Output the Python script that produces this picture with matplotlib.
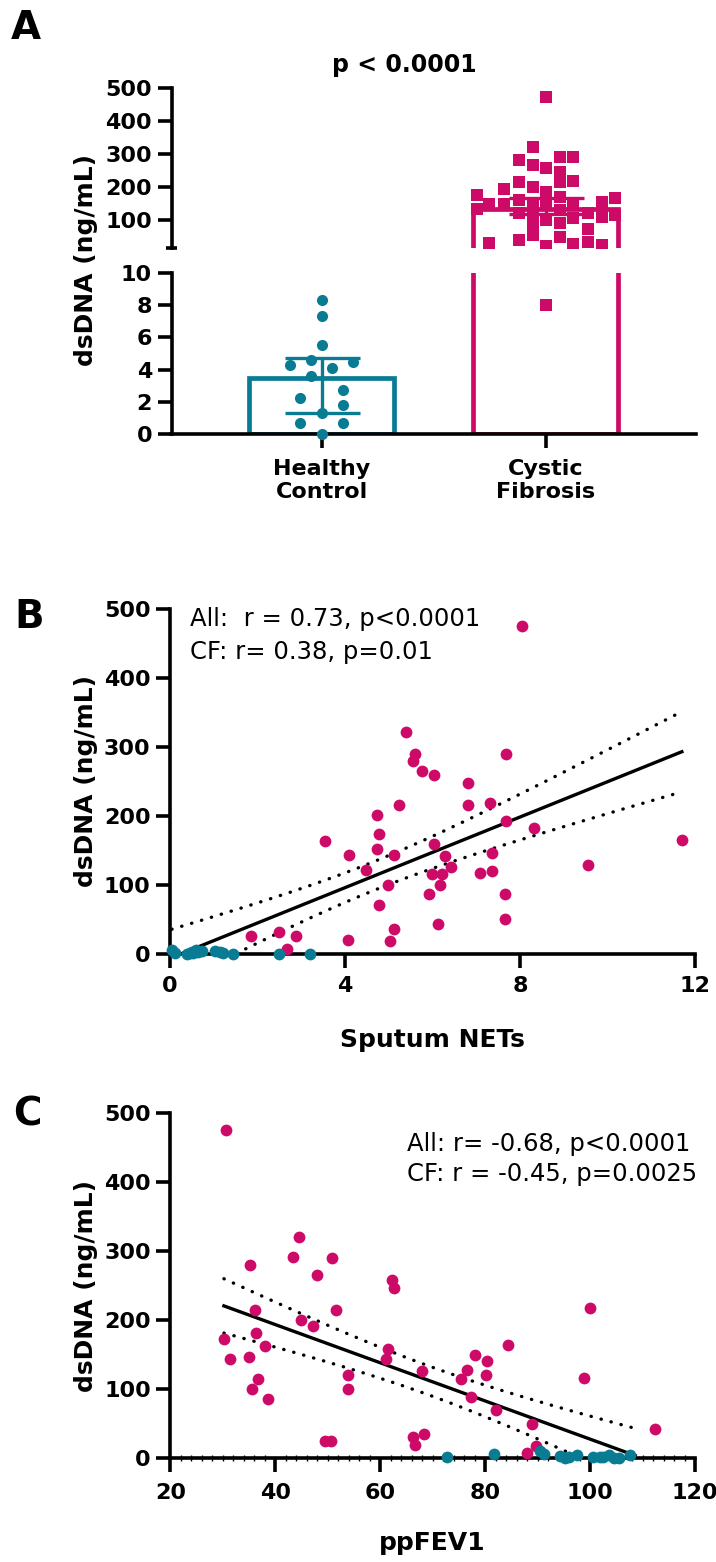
import matplotlib
matplotlib.use('Agg')

import numpy as np
import matplotlib.pyplot as plt

PINK = '#CE0A68'
TEAL = '#097C94'

# ---- panel A: dsDNA by group ----
groups = ['Healthy\nControl', 'Cystic\nFibrosis']
hc_dsdna = [8.3, 7.3, 5.5, 4.6, 4.3, 4.5, 4.1, 3.6, 2.75, 2.25, 1.8, 1.3, 0.7, 0.7, 0.0]
hc_jitter = [0, 0, 0, -0.048, -0.141, 0.141, 0.046, -0.048, 0.096, -0.095, 0.096, 0,
             -0.095, 0.096, 0]
cf_dsdna = [474, 323, 282, 267, 257, 292, 292, 247, 216, 218, 216, 201, 194, 186, 176,
            168, 171, 149, 149, 161, 151, 149, 156, 151, 135, 120, 120, 130, 105, 120,
            110, 115, 90, 100, 90, 72, 54, 39, 29, 47, 34, 26, 24, 21, 8]
cf_jitter = [0, -0.057, -0.119, -0.057, 0, 0.066, 0.123, 0.066, 0.066, 0.123, -0.119,
             -0.057, -0.184, 0, -0.307, 0.311, 0.066, -0.252, -0.184, -0.119, -0.057,
             0.123, 0.25, 0, -0.307, -0.119, -0.057, 0.066, 0.123, 0.188, 0.25, 0.311,
             -0.057, 0, 0.066, 0.188, -0.057, -0.119, -0.252, 0.066, 0.188, 0.123, 0.25,
             0, 0]
bar_heights = [3.5, 133]
err_low = [1.3, 118]
err_high = [4.7, 166]

# ---- panel B: dsDNA vs sputum NETs ----
cf_nets = [8.05, 5.40, 5.61, 5.56, 7.69, 5.76, 6.03, 6.82, 7.31, 6.80, 5.24, 4.72, 4.77,
           7.67, 8.33, 11.70, 3.55, 4.74, 6.03, 4.10, 5.13, 7.36, 6.28, 4.49, 6.43, 5.98,
           6.22, 7.09, 7.35, 9.56, 4.99, 6.18, 5.92, 7.66, 4.77, 7.66, 6.13, 5.12, 5.03,
           4.07, 1.84, 2.48, 2.87, 2.68]
cf_dsdna_b = [475, 321, 290, 280, 290, 265, 259, 248, 218, 215, 215, 201, 173, 193, 182,
              165, 164, 151, 159, 143, 143, 146, 141, 121, 126, 115, 115, 117, 120, 129,
              99.5, 99.5, 86, 87, 70, 49.5, 43, 35, 18, 19, 25, 31, 25, 7]
hc_nets = [0.04, 0.12, 0.38, 0.46, 0.53, 0.63, 0.72, 1.03, 1.14, 1.2, 1.45, 2.48, 3.2,
           0.5, 0.6]
hc_dsdna_b = [5.5, 0.7, 0, 0.7, 1.3, 2.3, 4.3, 3.6, 1.8, 0.7, 0, 0, 0, 2.7, 4.5]
fit_range_b = (0.04, 11.7)

# ---- panel C: dsDNA vs ppFEV1 ----
cf_fev = [30.6, 44.5, 43.3, 50.8, 35.2, 48.0, 62.2, 62.7, 36.2, 51.5, 44.9, 47.2, 36.4,
          30.2, 38.1, 61.4, 31.3, 35.0, 61.1, 67.9, 36.7, 53.8, 35.5, 53.8, 38.6, 49.4,
          50.7, 66.2, 68.3, 66.6, 100.0, 84.3, 78.1, 80.4, 76.6, 75.4, 80.1, 98.9, 77.3,
          82.1, 89.0, 112.3, 89.7, 88.0]
cf_dsdna_c = [476, 321, 291, 290, 280, 265, 258, 246, 214, 214, 200, 192, 181, 172, 163,
              158, 144, 146, 143, 126, 115, 120, 100, 100, 86, 25, 25, 30, 35, 19, 217,
              164, 150, 140, 128, 114.5, 120, 116, 88, 70, 50, 42.5, 18, 7]
hc_fev = [72.7, 81.6, 90.5, 91.3, 94.3, 95.3, 97.6, 100.5, 101.8, 103.7, 105.6, 107.6,
          96.0, 102.5, 104.5]
hc_dsdna_c = [2, 6, 10, 6, 3, 0, 4, 1, 1, 4, 0, 4, 1, 2, 0.7]
fit_range_c = (30.2, 108.6)

T95 = 2.0
TICK_FS = 16


def fit_band(x, y, xr):
    x = np.asarray(x, float)
    y = np.asarray(y, float)
    b1, b0 = np.polyfit(x, y, 1)
    n = len(x)
    s = np.sqrt(np.sum((y - (b0 + b1 * x)) ** 2) / (n - 2))
    sxx = np.sum((x - x.mean()) ** 2)
    xs = np.linspace(xr[0], xr[1], 200)
    yh = b0 + b1 * xs
    half = T95 * s * np.sqrt(1.0 / n + (xs - x.mean()) ** 2 / sxx)
    return xs, yh, yh - half, yh + half


def style(ax, bottom=True):
    for side in ['top', 'right']:
        ax.spines[side].set_visible(False)
    ax.spines['left'].set_linewidth(2.6)
    ax.spines['bottom'].set_linewidth(2.6)
    if not bottom:
        ax.spines['bottom'].set_visible(False)
    ax.tick_params(width=2.6, length=10, labelsize=TICK_FS, pad=4)
    for lab in ax.get_xticklabels() + ax.get_yticklabels():
        lab.set_fontweight('bold')


fig = plt.figure(figsize=(7.16, 15.62), dpi=100)
W, H = 716.0, 1562.0


def axes_px(left, top, right, bottom):
    return fig.add_axes([left / W, 1 - bottom / H, (right - left) / W, (bottom - top) / H])


axA_top = axes_px(171.5, 88.5, 695.6, 248)
axA_bot = axes_px(171.5, 273, 695.6, 434)
axB = axes_px(170, 609, 695, 953.5)
axC = axes_px(170.4, 1113, 695, 1458)

xpos = np.arange(len(groups))
colors = [TEAL, PINK]
for ax in (axA_top, axA_bot):
    ax.bar(xpos, bar_heights, width=0.65, fill=False, edgecolor=colors, linewidth=3.4,
           zorder=1)
    for i in range(2):
        ax.errorbar(xpos[i], bar_heights[i],
                    yerr=[[bar_heights[i] - err_low[i]], [err_high[i] - bar_heights[i]]],
                    color=colors[i], elinewidth=2.4, capsize=27, capthick=2.4, zorder=2)
    ax.set_xlim(-0.67, 1.67)

# healthy controls sit entirely in the lower segment
axA_bot.plot(xpos[0] + np.array(hc_jitter), hc_dsdna, 'o', color=TEAL, ms=8,
             mew=0, clip_on=False, zorder=3)
for ax in (axA_top, axA_bot):
    ax.plot(xpos[1] + np.array(cf_jitter), cf_dsdna, 's', color=PINK, ms=8,
            mew=0, zorder=3)

axA_top.set_ylim(15, 500)
axA_top.set_yticks([100, 200, 300, 400, 500])
axA_top.set_xticks([])
style(axA_top, bottom=False)
axA_top.plot([-0.011, 0.011], [0, 0], transform=axA_top.transAxes, color='k', lw=2.6,
             clip_on=False, solid_capstyle='butt')

axA_bot.set_ylim(0, 10)
axA_bot.set_yticks([0, 2, 4, 6, 8, 10])
axA_bot.set_xticks(xpos)
axA_bot.set_xticklabels(groups)
style(axA_bot)
axA_bot.tick_params(axis='x', pad=8, labelsize=16)
for lab in axA_bot.get_xticklabels():
    lab.set_fontweight('bold')
    lab.set_linespacing(1.2)

fig.text(404 / W, 1 - 72 / H, 'p < 0.0001', ha='center', va='baseline',
         fontsize=17, fontweight='bold')

# ---- scatter panels ----
for ax, cfx, cfy, hcx, hcy, xr in [
        (axB, cf_nets, cf_dsdna_b, hc_nets, hc_dsdna_b, fit_range_b),
        (axC, cf_fev, cf_dsdna_c, hc_fev, hc_dsdna_c, fit_range_c)]:
    xs, yh, lo, hi = fit_band(list(cfx) + list(hcx), list(cfy) + list(hcy), xr)
    ax.plot(xs, yh, color='k', lw=2.4, zorder=2)
    for band in (lo, hi):
        ax.plot(xs, band, color='k', lw=2.4, linestyle=(0, (0.1, 3.0)),
                dash_capstyle='round', zorder=2)
    ax.scatter(cfx, cfy, s=72, color=PINK, linewidths=0, zorder=3, clip_on=False)
    ax.scatter(hcx, hcy, s=72, color=TEAL, linewidths=0, zorder=3, clip_on=False)
    ax.set_ylim(0, 500)
    ax.set_yticks([0, 100, 200, 300, 400, 500])

axB.set_xlim(0, 12)
axB.set_xticks([0, 4, 8, 12])
style(axB)
axB.tick_params(axis='x', pad=6)

axC.set_xlim(20, 120)
axC.set_xticks([20, 40, 60, 80, 100, 120])
axC.set_xticks(np.arange(20, 121, 2), minor=True)
style(axC)
axC.tick_params(axis='x', which='minor', direction='inout', length=4, width=1.0)
axC.tick_params(axis='x', which='major', pad=8)

fig.text(190 / W, 1 - 626 / H, 'All:  r = 0.73, p<0.0001', fontsize=17.5, va='baseline')
fig.text(190 / W, 1 - 659 / H, 'CF: r= 0.38, p=0.01', fontsize=17.5, va='baseline')
fig.text(407 / W, 1 - 1150.5 / H, 'All: r= -0.68, p<0.0001', fontsize=17.5, va='baseline')
fig.text(407 / W, 1 - 1181.5 / H, 'CF: r = -0.45, p=0.0025', fontsize=17.5, va='baseline')

# axis labels
ylab = 'dsDNA (ng/mL)'
for yc in (260, 781, 1285.5):
    fig.text(86 / W, 1 - yc / H, ylab, rotation=90, ha='center', va='center',
             fontsize=18, fontweight='bold')
fig.text(432 / W, 1 - 1040 / H, 'Sputum NETs', ha='center', va='center',
         fontsize=18, fontweight='bold')
fig.text(432 / W, 1 - 1543 / H, 'ppFEV1', ha='center', va='center',
         fontsize=18, fontweight='bold')

# panel letters
for letter, xl, yb in [('A', 11, 39), ('B', 14, 628), ('C', 13, 1125)]:
    fig.text(xl / W, 1 - yb / H, letter, ha='left', va='baseline', fontsize=28,
             fontweight='bold')

fig.savefig('out.png', dpi=100)
